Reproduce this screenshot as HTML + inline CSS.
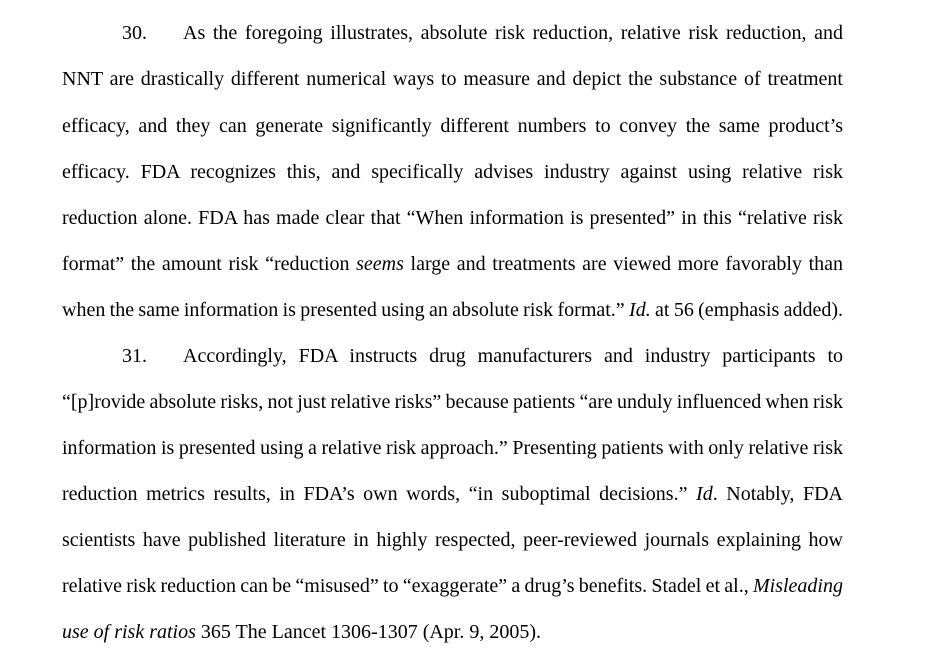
<!DOCTYPE html>
<html><head><meta charset="utf-8"><style>
html,body{margin:0;padding:0;background:#fff;width:931px;height:662px;overflow:hidden}
.l{position:absolute;left:62px;width:781px;height:46px;line-height:46px;font-family:"Liberation Serif",serif;font-size:20px;color:#000;text-align:justify;text-align-last:justify;white-space:normal;word-spacing:-5px;overflow:hidden}
.in{left:122px;width:721px}
.last{text-align-last:left;word-spacing:0}
.n{display:inline-block;width:61px;text-align-last:left}
</style></head><body>
<div class="l in" style="top:10px"><span class="n">30.</span>As the foregoing illustrates, absolute risk reduction, relative risk reduction, and</div>
<div class="l" style="top:56px">NNT are drastically different numerical ways to measure and depict the substance of treatment</div>
<div class="l" style="top:103px">efficacy, and they can generate significantly different numbers to convey the same product’s</div>
<div class="l" style="top:149px">efficacy. FDA recognizes this, and specifically advises industry against using relative risk</div>
<div class="l" style="top:195px">reduction alone. FDA has made clear that “When information is presented” in this “relative risk</div>
<div class="l" style="top:241px">format” the amount risk “reduction <i>seems</i> large and treatments are viewed more favorably than</div>
<div class="l" style="top:287px">when the same information is presented using an absolute risk format.” <i>Id.</i> at 56 (emphasis added).</div>
<div class="l in" style="top:333px"><span class="n">31.</span>Accordingly, FDA instructs drug manufacturers and industry participants to</div>
<div class="l" style="top:379px">“[p]rovide absolute risks, not just relative risks” because patients “are unduly influenced when risk</div>
<div class="l" style="top:425px">information is presented using a relative risk approach.” Presenting patients with only relative risk</div>
<div class="l" style="top:471px">reduction metrics results, in FDA’s own words, “in suboptimal decisions.” <i>Id</i>. Notably, FDA</div>
<div class="l" style="top:517px">scientists have published literature in highly respected, peer-reviewed journals explaining how</div>
<div class="l" style="top:563px">relative risk reduction can be “misused” to “exaggerate” a drug’s benefits. Stadel et al., <i>Misleading</i></div>
<div class="l last" style="top:609px"><i>use of risk ratios</i> 365 The Lancet 1306-1307 (Apr. 9, 2005).</div>
</body></html>
